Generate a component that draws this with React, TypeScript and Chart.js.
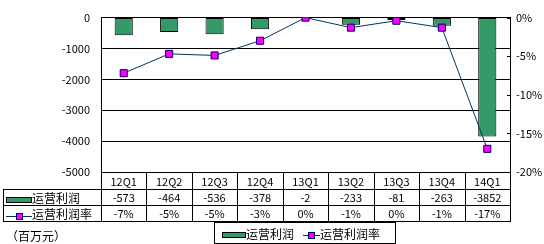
import React, { useEffect, useRef } from "react";
import { Chart, registerables } from "chart.js";

Chart.register(...registerables);

const categories = ["12Q1", "12Q2", "12Q3", "12Q4", "13Q1", "13Q2", "13Q3", "13Q4", "14Q1"];
const profitValues = [-573, -464, -536, -378, -2, -233, -81, -263, -3852];
const rateValues = [-7.2, -4.7, -4.9, -3.0, 0, -1.3, -0.4, -1.3, -17.0];
const seriesNames = ["运营利润", "运营利润率"];
const unitLabel = "（百万元）";
const leftMin = -5000;
const leftMax = 0;
const leftStep = 1000;
const rightMin = -20;
const rightMax = 0;
const rightStep = 5;

const FONT = "'Noto Sans CJK SC', 'Noto Sans', sans-serif";
const BAR_COLOR = "#339966";
const LINE_COLOR = "#003366";
const MARKER_COLOR = "#FF00FF";
const MARKER_BORDER = "#000066";

const fmtRate = (v: number) => `${Math.round(v) || 0}%`;

const tablePlugin = {
  id: "dataTable",
  afterDraw(chart: any) {
    const ctx: CanvasRenderingContext2D = chart.ctx;
    const ca = chart.chartArea;
    const xs = chart.scales.x;
    const y1 = chart.scales.y1;
    const step = xs.getPixelForValue(1) - xs.getPixelForValue(0);
    const top = Math.round(ca.bottom);
    const rowH = [17, 16, 16];
    const r0 = top;
    const r1 = r0 + rowH[0];
    const r2 = r1 + rowH[1];
    const r3 = r2 + rowH[2];
    const tableLeft = 3;
    const right = Math.round(ca.right);

    ctx.save();
    ctx.fillStyle = "#000";

    // inner tick marks on the right axis
    for (let v = rightMin; v <= rightMax; v += rightStep) {
      const py = Math.round(y1.getPixelForValue(v));
      ctx.fillRect(right - 3, py, 3, 1);
    }

    // data table grid
    [r0, r1, r2, r3].forEach((ry) => {
      const lx = ry === r0 ? Math.round(ca.left) : tableLeft;
      ctx.fillRect(lx, ry, right + 1 - lx, 1);
    });
    ctx.fillRect(tableLeft, r1, 1, r3 - r1 + 1);
    for (let i = 0; i <= categories.length; i++) {
      const bx = Math.round(xs.getPixelForValue(0) - step / 2 + i * step);
      ctx.fillRect(bx, r0, 1, r3 - r0 + 1);
    }

    // table texts
    ctx.fillStyle = "#000";
    ctx.textBaseline = "middle";
    ctx.textAlign = "center";
    ctx.font = `11px ${FONT}`;
    categories.forEach((c, i) => {
      const cx = xs.getPixelForValue(i);
      ctx.fillText(c, cx, (r0 + r1) / 2 + 1);
      ctx.fillText(String(profitValues[i]), cx, (r1 + r2) / 2 + 1);
      ctx.fillText(fmtRate(rateValues[i]), cx, (r2 + r3) / 2 + 1);
    });

    // row labels with legend keys
    ctx.textAlign = "left";
    ctx.font = `12px ${FONT}`;
    ctx.fillStyle = "#000";
    ctx.fillRect(6, r1 + 8, 26, 6);
    ctx.fillStyle = BAR_COLOR;
    ctx.fillRect(7, r1 + 9, 24, 4);
    ctx.fillStyle = "#000";
    ctx.fillText(seriesNames[0], 32, (r1 + r2) / 2 + 1);

    const my = r2 + 11;
    ctx.fillStyle = LINE_COLOR;
    ctx.fillRect(6, my, 26, 1);
    ctx.fillStyle = MARKER_BORDER;
    ctx.fillRect(16, my - 3, 7, 7);
    ctx.fillStyle = MARKER_COLOR;
    ctx.fillRect(17, my - 2, 5, 5);
    ctx.fillStyle = "#000";
    ctx.fillText(seriesNames[1], 32, (r2 + r3) / 2 + 1);

    // unit label
    ctx.fillText(unitLabel, 6, 236);

    // legend box
    ctx.strokeStyle = "#000";
    ctx.lineWidth = 1;
    ctx.strokeRect(214.5, 222.5, 181, 21);
    ctx.fillStyle = "#000";
    ctx.fillRect(222, 232, 24, 6);
    ctx.fillStyle = BAR_COLOR;
    ctx.fillRect(223, 233, 22, 4);
    ctx.fillStyle = "#000";
    ctx.fillText(seriesNames[0], 246, 234);
    ctx.fillStyle = LINE_COLOR;
    ctx.fillRect(303, 235, 17, 1);
    ctx.fillStyle = MARKER_BORDER;
    ctx.fillRect(308, 232, 7, 7);
    ctx.fillStyle = MARKER_COLOR;
    ctx.fillRect(309, 233, 5, 5);
    ctx.fillStyle = "#000";
    ctx.fillText(seriesNames[1], 320, 234);

    ctx.restore();
  },
};

export default function App() {
  const ref = useRef<HTMLCanvasElement | null>(null);
  useEffect(() => {
    if (!ref.current) return;
    const chart = new Chart(ref.current, {
      type: "bar",
      data: {
        labels: categories,
        datasets: [
          {
            type: "bar",
            label: seriesNames[0],
            data: profitValues,
            yAxisID: "y",
            backgroundColor: BAR_COLOR,
            borderColor: "#000",
            borderWidth: 1,
            borderSkipped: false,
            barPercentage: 1,
            categoryPercentage: 0.4,
            order: 2,
          } as any,
          {
            type: "line",
            label: seriesNames[1],
            data: rateValues,
            yAxisID: "y1",
            borderColor: LINE_COLOR,
            borderWidth: 1,
            pointStyle: "rect",
            pointRadius: 5,
            pointBackgroundColor: MARKER_COLOR,
            pointBorderColor: MARKER_BORDER,
            pointBorderWidth: 1,
            tension: 0,
            fill: false,
            order: 1,
          } as any,
        ],
      },
      options: {
        responsive: false,
        animation: false,
        devicePixelRatio: 1,
        layout: { padding: { left: 0, right: 0, top: 17, bottom: 72 } },
        plugins: { legend: { display: false }, tooltip: { enabled: false } },
        scales: {
          x: { display: false, offset: true },
          y: {
            position: "left",
            min: leftMin,
            max: leftMax,
            ticks: {
              stepSize: leftStep,
              padding: 11,
              color: "#000",
              font: { family: FONT, size: 11 },
              callback: (v: any) => String(v),
            },
            grid: { color: "#000000", lineWidth: 1, drawTicks: false, drawOnChartArea: true },
            border: { color: "#000", width: 1 },
            afterFit: (s: any) => {
              s.width = 101;
            },
          },
          y1: {
            position: "right",
            min: rightMin,
            max: rightMax,
            ticks: {
              stepSize: rightStep,
              padding: 6,
              color: "#000",
              font: { family: FONT, size: 11 },
              callback: (v: any) => `${v}%`,
            },
            grid: { drawOnChartArea: false, drawTicks: false, color: "#000" },
            border: { color: "#000", width: 1 },
            afterFit: (s: any) => {
              s.width = 34;
            },
          },
        },
      } as any,
      plugins: [tablePlugin],
    });
    return () => chart.destroy();
  }, []);
  return (
    <div style={{ position: "fixed", left: 0, top: 0, width: 544, height: 244, background: "#fff" }}>
      <canvas ref={ref} width={544} height={244} />
    </div>
  );
}
